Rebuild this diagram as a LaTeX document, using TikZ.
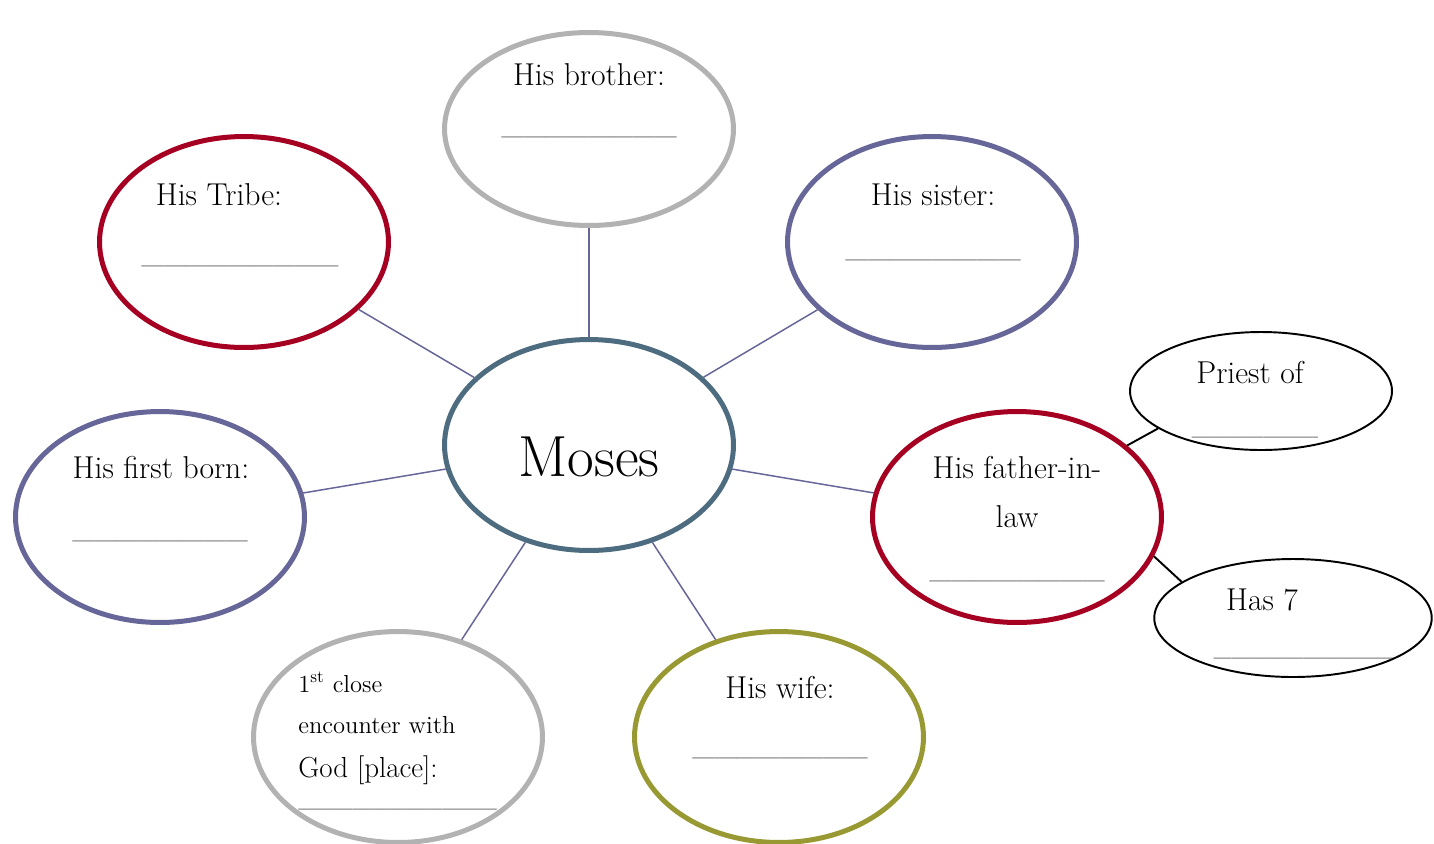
\documentclass[tikz,border=0pt]{standalone}
\usepackage{tikz}
\usetikzlibrary{shapes.geometric,positioning}
\definecolor{webred}{HTML}{A50021}
\definecolor{webpurple}{HTML}{666699}
\definecolor{webgray}{HTML}{B2B2B2}
\definecolor{webteal}{HTML}{4D6C80}
\definecolor{webolive}{HTML}{999933}
\tikzset{bubble/.style={ellipse,draw,line width=2.85pt,inner sep=0pt,minimum width=5.78cm,minimum height=4.22cm}}
\tikzset{side bubble/.style={ellipse,draw,line width=1.1pt,inner sep=0pt,minimum height=2.36cm}}
\tikzset{lbl/.style={inner sep=0pt,anchor=base,font=\fontsize{18}{22}\selectfont}}
\tikzset{link/.style={draw=webpurple,line width=0.85pt}}
\newcommand{\blanks}[1]{\foreach \k in {1,...,#1}{\textunderscore}}

\begin{document}
\begin{tikzpicture}[x=0.02cm,y=-0.02cm]
    \useasboundingbox (0,0) rectangle (1434,843);
    % bubbles
    \node[bubble,draw=webteal]  (moses)     at (589,445) {};
    \node[bubble,draw=webgray,minimum height=3.86cm] (brother) at (589,129) {};
    \node[bubble,draw=webred]   (tribe)     at (244,242) {};
    \node[bubble,draw=webpurple] (sister)   at (932,242) {};
    \node[bubble,draw=webpurple] (firstborn) at (160,517) {};
    \node[bubble,draw=webred]   (father)    at (1017,517) {};
    \node[bubble,draw=webgray]  (encounter) at (398,737) {};
    \node[bubble,draw=webolive] (wife)      at (779,737) {};
    \node[side bubble,minimum width=5.24cm] (priest) at (1261,391) {};
    \node[side bubble,minimum width=5.55cm] (seven)  at (1293,618) {};
    % spokes
    \path[link]
        (moses) edge (brother)
        (moses) edge (tribe)
        (moses) edge (sister)
        (moses) edge (firstborn)
        (moses) edge (father)
        (moses) edge (encounter)
        (moses) edge (wife)
    ;
    \draw[line width=1.1pt] (father.33) -- (priest.200);
    \draw[line width=1.1pt] (father.-16) -- (seven.162);
    % texts
    \node[lbl,font=\fontsize{33}{36}\selectfont] (mosestext) at (589,476) {Moses};
    \node[lbl] at (589,85) {His brother:};
    \node[lbl] at (589,133) {\blanks{8}};
    \node[lbl] at (219,205) {His Tribe:};
    \node[lbl] at (240,262) {\blanks{9}};
    \node[lbl] at (933,205) {His sister:};
    \node[lbl] at (933,256) {\blanks{8}};
    \node[lbl] at (161,478) {His first born:};
    \node[lbl] at (160,537) {\blanks{8}};
    \node[lbl] at (1017,478) {His father-in-};
    \node[lbl] at (1017,527) {law};
    \node[lbl] at (1017,577) {\blanks{8}};
    \node[lbl] at (780,698) {His wife:};
    \node[lbl] at (780,754) {\blanks{8}};
    \node[lbl] at (1250,383) {Priest of};
    \node[lbl,font=\fontsize{14}{16}\selectfont] at (1255,434) {\blanks{7}};
    \node[lbl] at (1262,610) {Has 7};
    \node[lbl,font=\fontsize{14}{16}\selectfont] at (1304,655) {\blanks{10}};
    \node[lbl,anchor=base west,font=\fontsize{14}{16}\selectfont] at (298,692) {1\textsuperscript{st} close};
    \node[lbl,anchor=base west,font=\fontsize{14}{16}\selectfont] at (298,733) {encounter with};
    \node[lbl,anchor=base west,font=\fontsize{16.5}{18}\selectfont] at (298,777) {God [place]:};
    \node[lbl,anchor=base west,font=\fontsize{14}{16}\selectfont] at (298,806) {\blanks{11}};
\end{tikzpicture}
\end{document}
